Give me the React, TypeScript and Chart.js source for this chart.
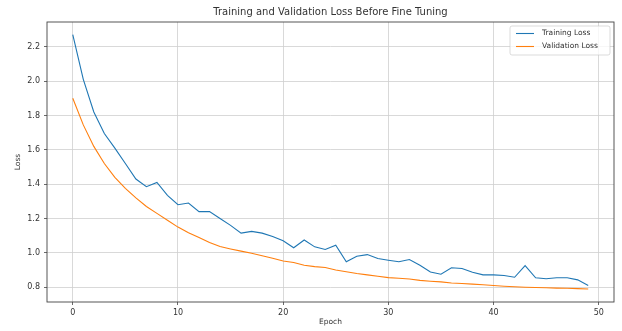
import React, { useEffect, useRef } from "react";
import { Chart, registerables } from "chart.js";
Chart.register(...registerables);

const epochs = [
  0, 1, 2, 3, 4, 5, 6, 7, 8, 9, 10, 11, 12, 13, 14, 15, 16, 17, 18, 19, 20, 21, 22, 23, 24,
  25, 26, 27, 28, 29, 30, 31, 32, 33, 34, 35, 36, 37, 38, 39, 40, 41, 42, 43, 44, 45, 46, 47, 48, 49,
];
const trainingLoss = [
  2.27, 2.01, 1.82, 1.695, 1.61, 1.52, 1.43, 1.385, 1.41, 1.335,
  1.28, 1.29, 1.24, 1.24, 1.2, 1.16, 1.115, 1.125, 1.115, 1.095,
  1.07, 1.03, 1.075, 1.035, 1.02, 1.045, 0.948, 0.98, 0.99, 0.967,
  0.957, 0.948, 0.961, 0.928, 0.889, 0.876, 0.913, 0.909, 0.887, 0.872,
  0.872, 0.868, 0.858, 0.926, 0.855, 0.849, 0.855, 0.855, 0.843, 0.81,
];
const validationLoss = [
  1.9, 1.745, 1.62, 1.52, 1.44, 1.375, 1.32, 1.27, 1.23, 1.19,
  1.15, 1.117, 1.09, 1.06, 1.037, 1.023, 1.01, 0.998, 0.983, 0.969,
  0.953, 0.944, 0.928, 0.92, 0.915, 0.9, 0.89, 0.88, 0.872, 0.864,
  0.856, 0.852, 0.848, 0.84, 0.835, 0.831, 0.825, 0.822, 0.818, 0.814,
  0.81, 0.806, 0.803, 0.8, 0.798, 0.797, 0.795, 0.794, 0.792, 0.79,
];
const xTicks = [0, 10, 20, 30, 40, 50];
const yTicks = [0.8, 1.0, 1.2, 1.4, 1.6, 1.8, 2.0, 2.2];
const seriesNames = ["Training Loss", "Validation Loss"];
const titleText = "Training and Validation Loss Before Fine Tuning";
const xLabel = "Epoch";
const yLabel = "Loss";

const BLUE = "#1f77b4";
const ORANGE = "#ff7f0e";
const FONT = "'DejaVu Sans', sans-serif";
const TEXT = "#333";
const GRID = "#cfcfcf";

const framePlugin = {
  id: "frameAndExtras",
  afterDraw(chart: any) {
    const { ctx, chartArea } = chart;
    const { left, right, top, bottom } = chartArea;
    ctx.save();
    ctx.strokeStyle = "#444";
    ctx.lineWidth = 0.9;
    ctx.strokeRect(left, top, right - left, bottom - top);
    ctx.fillStyle = TEXT;
    ctx.font = `10px ${FONT}`;
    ctx.textAlign = "center";
    ctx.textBaseline = "middle";
    ctx.fillText(titleText, (left + right) / 2, 12);
    const bx = right - 104;
    const by = top + 4;
    const bw = 100;
    const bh = 29;
    ctx.fillStyle = "rgba(255,255,255,0.8)";
    ctx.strokeStyle = "rgba(200,200,200,0.8)";
    ctx.lineWidth = 0.8;
    ctx.beginPath();
    (ctx as any).roundRect(bx, by, bw, bh, 2);
    ctx.fill();
    ctx.stroke();
    const colors = [BLUE, ORANGE];
    ctx.font = `7.5px ${FONT}`;
    ctx.textAlign = "left";
    seriesNames.forEach((name, i) => {
      const yy = by + 7.5 + i * 13;
      ctx.strokeStyle = colors[i];
      ctx.lineWidth = 1.1;
      ctx.beginPath();
      ctx.moveTo(bx + 6, yy);
      ctx.lineTo(bx + 24, yy);
      ctx.stroke();
      ctx.fillStyle = TEXT;
      ctx.fillText(name, bx + 32, yy);
    });
    ctx.restore();
  },
};

export default function App() {
  const ref = useRef<HTMLCanvasElement>(null);
  useEffect(() => {
    document.body.style.margin = "0";
    const canvas = ref.current!;
    const chart = new Chart(canvas, {
      type: "line",
      data: {
        datasets: [
          {
            label: seriesNames[0],
            data: epochs.map((e, i) => ({ x: e, y: trainingLoss[i] })),
            borderColor: BLUE,
            borderWidth: 1.1,
            pointRadius: 0,
            tension: 0,
            fill: false,
          },
          {
            label: seriesNames[1],
            data: epochs.map((e, i) => ({ x: e, y: validationLoss[i] })),
            borderColor: ORANGE,
            borderWidth: 1.1,
            pointRadius: 0,
            tension: 0,
            fill: false,
          },
        ],
      },
      options: {
        responsive: false,
        animation: false,
        devicePixelRatio: 1,
        layout: { padding: { top: 22, right: 8, left: 0, bottom: 0 } },
        plugins: { legend: { display: false }, tooltip: { enabled: false }, title: { display: false } },
        scales: {
          x: {
            type: "linear",
            min: -2.45,
            max: 51.45,
            afterBuildTicks: (s: any) => {
              s.ticks = xTicks.map((v) => ({ value: v }));
            },
            afterFit: (s: any) => {
              s.height = 29;
            },
            border: { display: false },
            grid: { color: GRID, lineWidth: 0.8, tickLength: 3, tickColor: "#444", tickWidth: 0.8 },
            ticks: {
              font: { family: FONT, size: 8 },
              color: TEXT,
              padding: 3,
              maxRotation: 0,
              callback: (v: any) => String(v),
            },
            title: {
              display: true,
              text: xLabel,
              font: { family: FONT, size: 7.5 },
              color: TEXT,
              padding: { top: 0, bottom: 4 },
            },
          },
          y: {
            type: "linear",
            min: 0.714,
            max: 2.344,
            afterBuildTicks: (s: any) => {
              s.ticks = yTicks.map((v) => ({ value: v }));
            },
            afterFit: (s: any) => {
              s.width = 47;
            },
            border: { display: false },
            grid: { color: GRID, lineWidth: 0.8, tickLength: 3, tickColor: "#444", tickWidth: 0.8 },
            ticks: {
              font: { family: FONT, size: 8 },
              color: TEXT,
              padding: 4,
              callback: (v: any) => Number(v).toFixed(1),
            },
            title: {
              display: true,
              text: yLabel,
              font: { family: FONT, size: 7.5 },
              color: TEXT,
              padding: { top: 14, bottom: 0 },
            },
          },
        },
      },
      plugins: [framePlugin],
    } as any);
    return () => chart.destroy();
  }, []);
  return (
    <div style={{ position: "absolute", left: 0, top: 0, width: 622, height: 331, background: "#fff" }}>
      <canvas ref={ref} width={622} height={331} style={{ display: "block", width: 622, height: 331 }} />
    </div>
  );
}
